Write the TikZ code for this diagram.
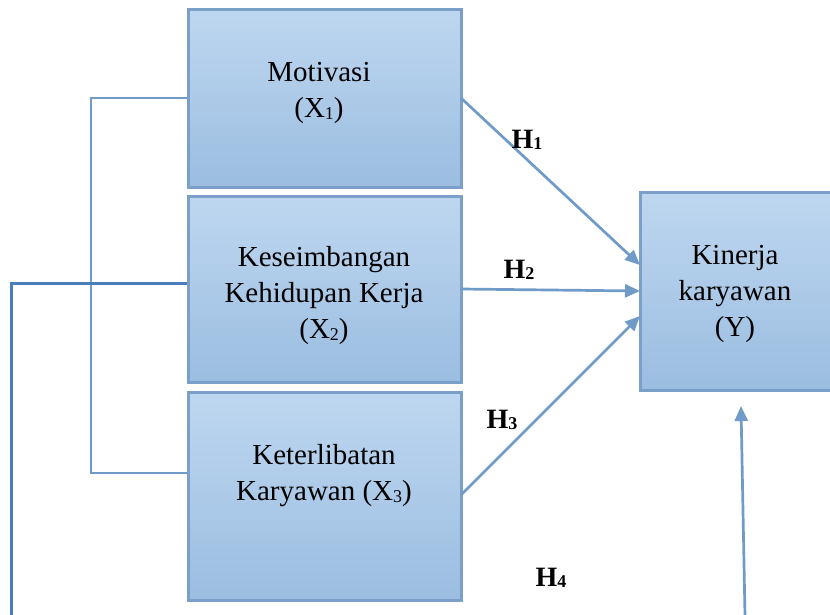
\documentclass[tikz,border=0pt]{standalone}
\usepackage{fontspec}
\setmainfont{Liberation Serif}
\usetikzlibrary{arrows.meta}
\definecolor{boxtop}{RGB}{190,215,240}
\definecolor{boxbot}{RGB}{155,189,224}
\definecolor{boxline}{RGB}{122,160,201}
\definecolor{conn}{RGB}{112,155,200}
\definecolor{darkconn}{RGB}{74,126,187}
\newcommand{\sbs}[1]{{\fontsize{18}{18}\selectfont\raisebox{-1.5pt}{#1}}}
\tikzset{
  varbox/.style={draw=boxline, line width=3pt, top color=boxtop, bottom color=boxbot, rectangle, inner sep=0pt},
  txt/.style={font=\fontsize{29}{36}\selectfont, align=center, inner sep=0pt},
  hlab/.style={font=\fontsize{28}{30}\selectfont\bfseries, inner sep=0pt},
  conline/.style={draw=conn, line width=2.7pt},
  arr/.style={conline, -{Triangle[length=15pt,width=13pt]}},
}
\begin{document}
\begin{tikzpicture}[x=1pt,y=-1pt]
\useasboundingbox (0,0) rectangle (830,614);
\clip (0,0) rectangle (830,614);
% boxes
\node[varbox, minimum width=273pt, minimum height=178pt] (x1) at (324.5,98) {};
\node[varbox, minimum width=273pt, minimum height=186pt] (x2) at (324.5,289) {};
\node[varbox, minimum width=273pt, minimum height=208pt] (x3) at (324.5,496) {};
\node[varbox, minimum width=220pt, minimum height=198pt] (y) at (750,291) {};
% texts
\node[txt] (t1) at (319,93) {Motivasi\\(X\sbs{1})};
\node[txt] (t2) at (324,296) {Keseimbangan\\Kehidupan Kerja\\(X\sbs{2})};
\node[txt] (t3) at (324,476) {Keterlibatan\\Karyawan (X\sbs{3})};
\node[txt] (ty) at (735,294) {Kinerja\\karyawan\\(Y)};
% bracket
\coordinate (b1) at (91,98);
\coordinate (b2) at (91,473);
\draw[conline] (x1.west |- b1) -- (b1) -- (b2) -- (x3.west |- b2);
% long line from X2
\coordinate (l1) at (11,283);
\coordinate (l2) at (11,616);
\draw[draw=darkconn, line width=3pt] (x2.west |- l1) -- (l1) -- (l2);
% arrows
\coordinate (a1s) at (461,98);
\coordinate (a1e) at (640,265);
\draw[arr] (a1s) -- (a1e);
\coordinate (a2s) at (461,289);
\coordinate (a2e) at (640,291);
\draw[arr] (a2s) -- (a2e);
\coordinate (a3s) at (461,495);
\coordinate (a3e) at (640,316);
\draw[arr] (a3s) -- (a3e);
\coordinate (a4s) at (745,616);
\coordinate (a4e) at (741,406);
\draw[arr] (a4s) -- (a4e);
% labels
\node[hlab] (h1) at (527,140) {H\sbs{1}};
\node[hlab] (h2) at (519,270) {H\sbs{2}};
\node[hlab] (h3) at (502,420) {H\sbs{3}};
\node[hlab] (h4) at (551,578) {H\sbs{4}};
\end{tikzpicture}
\end{document}
